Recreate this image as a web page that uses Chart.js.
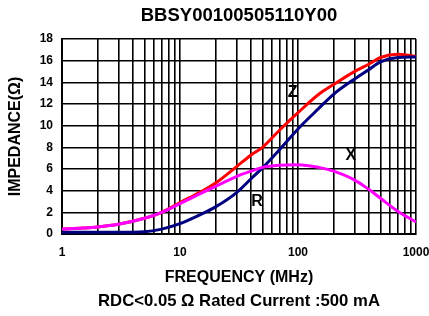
<!DOCTYPE html>
<html>
<head>
<meta charset="utf-8">
<script src="https://cdn.jsdelivr.net/npm/chart.js@4/dist/chart.umd.min.js"></script>
<style>
  html, body { margin: 0; padding: 0; background: #fff; }
  #wrap { width: 429px; height: 316px; }
</style>
</head>
<body>
<div id="wrap"><canvas id="chart" width="429" height="316"></canvas></div>
<script>
// frequency points (MHz) shared by the three curves
const freqs = [1, 1.5, 2, 3, 5, 7, 10, 15, 20, 30, 40, 50, 70, 100, 150, 200, 300, 400, 500, 700, 1000];

// impedance readings (ohm)
const zValues = [0.45, 0.55, 0.65, 0.9, 1.45, 2.0, 2.9, 3.9, 4.7, 6.2, 7.3, 8.0, 9.6, 11.2, 12.9, 13.8, 15.0, 15.7, 16.3, 16.6, 16.4];
const rValues = [0.15, 0.15, 0.15, 0.15, 0.2, 0.45, 0.95, 1.8, 2.5, 3.8, 5.1, 6.1, 7.8, 9.7, 11.6, 12.9, 14.3, 15.2, 15.9, 16.3, 16.35];
const xValues = [0.45, 0.55, 0.65, 0.9, 1.45, 2.0, 2.8, 3.75, 4.4, 5.3, 5.8, 6.15, 6.35, 6.4, 6.15, 5.8, 5.0, 4.1, 3.3, 2.1, 1.1];

const xTickLabels = [1, 10, 100, 1000];

// in-plot curve names and where they sit (freq, ohm)
const curveNames = ['Z', 'X', 'R'];
const curveNameFreqs = [90, 280, 45];
const curveNameValues = [13.1, 7.2, 3.0];

const FONT = 'Liberation Sans, Arial, Helvetica, sans-serif';
Chart.defaults.color = '#000';
Chart.defaults.font.family = FONT;

const toPoints = vals => freqs.map((f, i) => ({ x: f, y: vals[i] }));

// black letters sitting next to the curves
const curveNamePlugin = {
    id: 'curveNames',
    afterDatasetsDraw(chart) {
        const { ctx, scales: { x, y } } = chart;
        ctx.save();
        ctx.font = 'bold 16px ' + FONT;
        ctx.fillStyle = '#000';
        ctx.textAlign = 'center';
        ctx.textBaseline = 'middle';
        curveNames.forEach((name, i) => {
            ctx.fillText(name, x.getPixelForValue(curveNameFreqs[i]), y.getPixelForValue(curveNameValues[i]));
        });
        ctx.restore();
    },
};

const line = (label, vals, color) => ({
    label,
    data: toPoints(vals),
    borderColor: color,
    backgroundColor: color,
    borderWidth: 3,
    pointRadius: 0,
    cubicInterpolationMode: 'monotone',
});

new Chart(document.getElementById('chart'), {
    type: 'line',
    data: {
        datasets: [
            line('X', xValues, '#ff00ff'),
            line('R', rValues, '#000080'),
            line('Z', zValues, '#ff0000'),
        ],
    },
    options: {
        responsive: false,
        animation: false,
        layout: { padding: 0 },
        plugins: {
            legend: { display: false },
            tooltip: { enabled: false },
            title: {
                display: true,
                fullSize: false,
                text: 'BBSY00100505110Y00',
                font: { size: 18.5, weight: 'bold' },
                padding: { top: 4.9, bottom: 12 },
            },
            subtitle: {
                display: true,
                fullSize: false,
                position: 'bottom',
                text: 'RDC<0.05 Ω Rated Current :500 mA',
                font: { size: 16.7, weight: 'bold' },
                padding: { top: 1.6, bottom: 5 },
            },
        },
        scales: {
            x: {
                type: 'logarithmic',
                min: 1,
                max: 1000,
                afterFit: s => {
                    s.height = 55.4;
                    // keep plot right edge at 416 (label "1000" hangs over)
                    s.paddingLeft = 0;
                    s.paddingRight = 13;
                },
                afterBuildTicks: s => {
                    // gridlines at 1..9 of every decade
                    const ticks = [];
                    for (let d = 1; d < 1000; d *= 10) {
                        for (let m = 1; m < 10; m++) ticks.push({ value: m * d });
                    }
                    ticks.push({ value: 1000 });
                    s.ticks = ticks;
                },
                ticks: {
                    autoSkip: false,
                    maxRotation: 0,
                    padding: 12,
                    font: { size: 12, weight: 'bold' },
                    callback: v => xTickLabels.includes(v) ? String(v) : '',
                },
                grid: { color: '#000', lineWidth: 1.6, drawTicks: false },
                border: { color: '#000', width: 2 },
                title: {
                    display: true,
                    text: 'FREQUENCY (MHz)',
                    font: { size: 16, weight: 'bold' },
                    padding: { top: 0, bottom: 1.8 },
                },
            },
            y: {
                min: 0,
                max: 18,
                afterFit: s => { s.width = 62; },
                ticks: {
                    stepSize: 2,
                    padding: 9,
                    font: { size: 12, weight: 'bold' },
                },
                grid: { color: '#000', lineWidth: 1.6, drawTicks: false },
                border: { color: '#000', width: 2 },
                title: {
                    display: true,
                    text: 'IMPEDANCE(Ω)',
                    font: { size: 16, weight: 'bold' },
                    padding: { top: 6.4, bottom: 0 },
                },
            },
        },
    },
    plugins: [curveNamePlugin],
});
</script>
</body>
</html>
